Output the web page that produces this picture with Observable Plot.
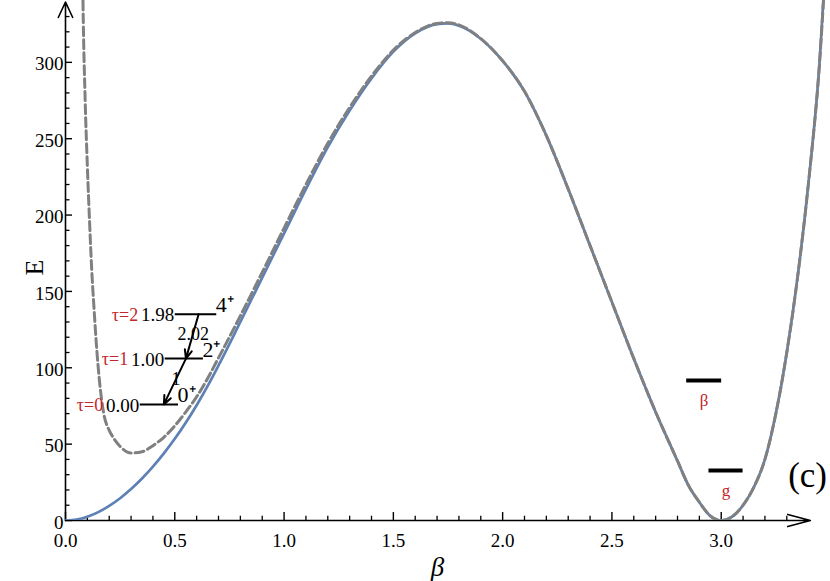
<!DOCTYPE html>
<html><head><meta charset="utf-8">
<script src="https://cdn.jsdelivr.net/npm/d3@7"></script>
<script src="https://cdn.jsdelivr.net/npm/@observablehq/plot@0.6"></script>
<style>body{margin:0;background:#fff}#chart{width:830px;height:581px}svg text{font-family:"Liberation Serif","Times New Roman",serif}</style>
</head><body><div id="chart"></div>
<script>
// Potential V(beta) (solid blue)
const betaSolid = [0, 0.05, 0.1, 0.15, 0.2, 0.25, 0.3, 0.35, 0.4, 0.45, 0.5, 0.55, 0.6, 0.65, 0.7, 0.8, 0.9, 1.0, 1.1, 1.2, 1.3, 1.4, 1.5, 1.6, 1.7, 1.75, 1.8, 1.9, 2.0, 2.1, 2.2, 2.3, 2.4, 2.5, 2.6, 2.7, 2.8, 2.85, 2.9, 2.95, 3.0, 3.05, 3.1, 3.15, 3.2, 3.25, 3.3, 3.35, 3.4, 3.45, 3.48];
const energySolid = [0, 0.6, 2.5, 5.5, 9.6, 14.6, 20.6, 27.5, 35.3, 44, 53.5, 64, 75.5, 88, 101.5, 130, 159, 188, 217, 244.5, 268.5, 289.5, 307, 319, 325, 325.5, 324, 315.5, 301, 281, 252, 217, 180, 143, 106, 71, 39, 23, 12, 3, 0, 2.5, 10, 22, 40, 70, 110, 160, 222, 300, 370];
// Effective potential (dashed gray)
const betaDashed = [0.075, 0.08, 0.09, 0.1, 0.11, 0.12, 0.13, 0.14, 0.155, 0.175, 0.2, 0.22, 0.25, 0.3, 0.35, 0.4, 0.45, 0.5, 0.55, 0.6, 0.65, 0.7, 0.8, 0.9, 1.0, 1.1, 1.2, 1.3, 1.4, 1.5, 1.6, 1.7, 1.75, 1.8, 1.9, 2.0, 2.1, 2.2, 2.3, 2.4, 2.5, 2.6, 2.7, 2.8, 2.85, 2.9, 2.95, 3.0, 3.05, 3.1, 3.15, 3.2, 3.25, 3.3, 3.35, 3.4, 3.45, 3.48];
const energyDashed = [400, 340, 275, 232, 196, 164, 140, 118, 92, 70, 59, 54, 48.5, 44.2, 45, 49, 54.5, 62, 71, 81, 93, 106.5, 134, 162.5, 191.5, 220, 247, 270.5, 291, 308, 319.5, 325.5, 326, 324.5, 315.5, 301, 281, 252, 217, 180, 143, 106, 71, 39, 23, 12, 3, 0, 2.5, 10, 22, 40, 70, 110, 160, 222, 300, 370];

// Level scheme (E in plot units, beta extent of each level line)
const levelEnergy = [76, 106, 135];
const levelBetaStart = [0.342, 0.456, 0.502];
const levelBetaEnd = [0.517, 0.631, 0.692];
const levelTau = ["τ=0", "τ=1", "τ=2"];
const levelValue = ["0.00", "1.00", "1.98"];
const levelSpin = ["0⁺", "2⁺", "4⁺"];

// Transitions
const transFromE = [135, 106];
const transToE = [106, 76];
const transFromBeta = [0.609, 0.551];
const transToBeta = [0.551, 0.450];
const transLabel = ["2.02", "1"];

// Band heads at the right
const bandName = ["β", "g"];
const bandEnergy = [91.7, 32.7];
const bandBetaStart = [2.842, 2.944];
const bandBetaEnd = [3.002, 3.100];

// Axes ticks
const xMajorTicks = [0, 0.5, 1.0, 1.5, 2.0, 2.5, 3.0];
const yMajorTicks = [0, 50, 100, 150, 200, 250, 300];
const xMinorTicks = d3.range(1, 34).map(i => i / 10).filter(v => Math.abs(v * 2 - Math.round(v * 2)) > 1e-9);
const yMinorTicks = d3.range(10, 340, 10).filter(v => v % 50 !== 0);

const solid = betaSolid.map((b, i) => ({b, E: energySolid[i]}));
const dashed = betaDashed.map((b, i) => ({b, E: energyDashed[i]}));
const levels = levelEnergy.map((E, i) => ({E, x1: levelBetaStart[i], x2: levelBetaEnd[i], tau: levelTau[i], val: levelValue[i], spin: levelSpin[i]}));
const trans = transLabel.map((t, i) => ({x1: transFromBeta[i], y1: transFromE[i], x2: transToBeta[i], y2: transToE[i], t, mx: (transFromBeta[i] + transToBeta[i]) / 2, my: (transFromE[i] + transToE[i]) / 2}));
const bands = bandName.map((n, i) => ({n, E: bandEnergy[i], x1: bandBetaStart[i], x2: bandBetaEnd[i], xm: (bandBetaStart[i] + bandBetaEnd[i]) / 2}));

const serif = "Liberation Serif";
const red = "#c3252b";

const plot = Plot.plot({
  width: 830, height: 581,
  marginLeft: 65, marginRight: 0, marginTop: 0, marginBottom: 61,
  x: {domain: [0, 3.5]},
  y: {domain: [0, 340.5]},
  style: {fontFamily: serif, fontSize: "19px", background: "#fff", color: "#000"},
  marks: [
    Plot.axisX(xMajorTicks, {tickSize: 0, tickPadding: 13, tickFormat: d3.format(".1f"), label: null, fontSize: 19, fontFamily: serif}),
    Plot.axisY(yMajorTicks, {tickSize: 0, tickPadding: 2, label: null, fontSize: 19, dy: 2, fontFamily: serif}),
    Plot.ruleX(xMajorTicks, {x: d => d, y1: 0, y2: 5.2, stroke: "#000", strokeWidth: 1.4}),
    Plot.ruleX(xMinorTicks, {x: d => d, y1: 0, y2: 2.8, stroke: "#000", strokeWidth: 1.3}),
    Plot.ruleY(yMajorTicks, {y: d => d, x1: 0, x2: 0.032, stroke: "#000", strokeWidth: 1.4}),
    Plot.ruleY(yMinorTicks, {y: d => d, x1: 0, x2: 0.0206, stroke: "#000", strokeWidth: 1.3}),
    Plot.arrow([{x1: 0, y1: 0, x2: 3.408, y2: 0}], {x1: "x1", y1: "y1", x2: "x2", y2: "y2", stroke: "#000", strokeWidth: 1.6, headLength: 22, headAngle: 30}),
    Plot.arrow([{x1: 0, y1: 0, x2: 0, y2: 339.5}], {x1: "x1", y1: "y1", x2: "x2", y2: "y2", stroke: "#000", strokeWidth: 1.6, headLength: 16, headAngle: 50}),
    Plot.line(solid, {x: "b", y: "E", stroke: "#5E81B5", strokeWidth: 2.7, curve: "monotone-x", clip: true}),
    Plot.line(dashed, {x: "b", y: "E", stroke: "#808080", strokeWidth: 3, strokeDasharray: "9,4", curve: "monotone-x", clip: true}),
    // level scheme
    Plot.ruleY(levels, {y: "E", x1: "x1", x2: "x2", stroke: "#000", strokeWidth: 2}),
    Plot.text(levels, {x: "x1", y: "E", text: "val", textAnchor: "end", dx: -1, dy: 1, fontSize: 19, fontFamily: serif, fill: "#000"}),
    Plot.text(levels, {x: "x1", y: "E", text: "tau", textAnchor: "end", dx: -37, dy: 1, fontSize: 18, fontFamily: serif, fill: red}),
    Plot.text(levels, {x: "x2", y: "E", text: "spin", textAnchor: "start", dx: -1, dy: -9, fontSize: 22, fontFamily: serif, fill: "#000"}),
    Plot.arrow(trans, {x1: "x1", y1: "y1", x2: "x2", y2: "y2", stroke: "#000", strokeWidth: 2, headLength: 7, headAngle: 45}),
    Plot.text(trans, {x: "mx", y: "my", text: "t", dx: 1, dy: -2, fontSize: 18, fontFamily: serif, fill: "#000"}),
    // band heads
    Plot.ruleY(bands, {y: "E", x1: "x1", x2: "x2", stroke: "#000", strokeWidth: 4}),
    Plot.text(bands, {x: "xm", y: "E", text: "n", dy: 20, fontSize: 17, fontFamily: serif, fill: red}),
    // labels
    Plot.text(["(c)"], {x: () => 3.395, y: () => 29.5, text: d => d, fontSize: 35, fontFamily: serif, fill: "#000"}),
    Plot.text(["β"], {x: () => 1.702, y: () => -30.8, text: d => d, fontSize: 27, fontStyle: "italic", fontFamily: serif, fill: "#000"}),
    Plot.text(["E"], {x: () => -0.142, y: () => 165.7, text: d => d, fontSize: 26, rotate: -90, fontFamily: serif, fill: "#000"})
  ]
});
document.getElementById("chart").appendChild(plot);
</script>
</body></html>
